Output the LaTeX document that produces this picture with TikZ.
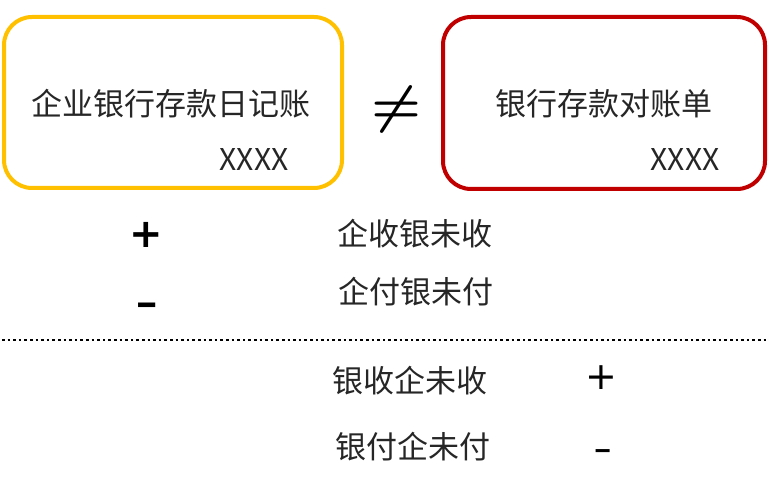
\documentclass[tikz,border=0pt]{standalone}
\usepackage{fontspec}
\newfontfamily\cjk{Noto Sans CJK SC}
\newfontfamily\signfont{DejaVu Sans}
\newfontfamily\signbold{DejaVu Sans Bold}
\definecolor{boxyellow}{HTML}{FFC000}
\definecolor{boxred}{HTML}{C00000}
\begin{document}
\begin{tikzpicture}[x=1pt,y=-1pt,
  acct/.style={rounded corners=28pt,line width=4pt},
  lbl/.style={font=\cjk\fontsize{31}{34}\selectfont,text=black!85,inner sep=0pt},
  amt/.style={font=\cjk\fontsize{30}{34}\selectfont,text=black!85,inner sep=0pt},
  boldsign/.style={font=\signbold\fontsize{40}{40}\selectfont,inner sep=0pt},
  plainsign/.style={font=\signfont\fontsize{38}{38}\selectfont,inner sep=0pt}]
\useasboundingbox (0,0) rectangle (779,481);
\draw[acct,boxyellow] (4,17) rectangle (342,188);
\draw[acct,boxred] (443,17) rectangle (765,189);
\node[lbl] (ent) at (171,104) {企业银行存款日记账};
\node[amt] (entx) at (254,160) {XXXX};
\node[lbl] (bank) at (604,104) {银行存款对账单};
\node[amt] (bankx) at (685,160) {XXXX};
\node[inner sep=0pt] (ne) at (397,110) {\scalebox{5.6}[5.2]{\boldmath$\neq$}};
\node[boldsign] (p1) at (146,235) {+};
\node[boldsign] (m1) at (147,309) {\scalebox{1.4}[0.8]{-}};
\node[lbl] (r1) at (415,234) {企收银未收};
\node[lbl] (r2) at (416,292) {企付银未付};
\coordinate (dl) at (2,340);
\coordinate (dr) at (766,340);
\draw[line width=2.6pt,dash pattern=on 2.6pt off 3pt] (dl) -- (dr);
\node[lbl] (r3) at (410,381) {银收企未收};
\node[lbl] (r4) at (413,447) {银付企未付};
\node[plainsign] (p2) at (601,378) {+};
\node[plainsign] (m2) at (603,456) {\scalebox{1.4}[1]{-}};
\end{tikzpicture}
\end{document}
